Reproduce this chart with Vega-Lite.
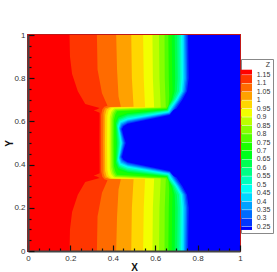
{"$schema":"https://vega.github.io/schema/vega-lite/v6.json","autosize":"none","width":212,"height":216,"padding":{"left":28,"top":35,"right":37,"bottom":21},"background":"white","config":{"view":{"stroke":"#c01818","strokeWidth":2},"font":"Liberation Sans"},
"datasets":{"levels":[{"z":"1.2","lab":"1.15"},{"z":"1.15","lab":"1.1"},{"z":"1.1","lab":"1.05"},{"z":"1.05","lab":"1"},{"z":"1","lab":"0.95"},{"z":"0.95","lab":"0.9"},{"z":"0.9","lab":"0.85"},{"z":"0.85","lab":"0.8"},{"z":"0.8","lab":"0.75"},{"z":"0.75","lab":"0.7"},{"z":"0.7","lab":"0.65"},{"z":"0.65","lab":"0.6"},{"z":"0.6","lab":"0.55"},{"z":"0.55","lab":"0.5"},{"z":"0.5","lab":"0.45"},{"z":"0.45","lab":"0.4"},{"z":"0.4","lab":"0.35"},{"z":"0.35","lab":"0.3"},{"z":"0.3","lab":"0.25"},{"z":"0.25","lab":"0.25"}],
"bands":[
{"z":"0.25","x":1,"y":1},{"z":"0.25","x":1,"y":0},
{"z":"0.3","x":0.755,"y":1},{"z":"0.3","x":0.758,"y":0.8},{"z":"0.3","x":0.75,"y":0.74},{"z":"0.3","x":0.728,"y":0.7},{"z":"0.3","x":0.7,"y":0.66},{"z":"0.3","x":0.673,"y":0.631},{"z":"0.3","x":0.657,"y":0.639},{"z":"0.3","x":0.47,"y":0.589},{"z":"0.3","x":0.45,"y":0.578},{"z":"0.3","x":0.443,"y":0.565},{"z":"0.3","x":0.45,"y":0.535},{"z":"0.3","x":0.461,"y":0.5},{"z":"0.3","x":0.45,"y":0.465},{"z":"0.3","x":0.443,"y":0.435},{"z":"0.3","x":0.45,"y":0.422},{"z":"0.3","x":0.47,"y":0.411},{"z":"0.3","x":0.657,"y":0.361},{"z":"0.3","x":0.673,"y":0.369},{"z":"0.3","x":0.7,"y":0.34},{"z":"0.3","x":0.728,"y":0.3},{"z":"0.3","x":0.75,"y":0.26},{"z":"0.3","x":0.758,"y":0.2},{"z":"0.3","x":0.755,"y":0},
{"z":"0.35","x":0.748,"y":1},{"z":"0.35","x":0.751,"y":0.8},{"z":"0.35","x":0.744,"y":0.74},{"z":"0.35","x":0.721,"y":0.7},{"z":"0.35","x":0.692,"y":0.66},{"z":"0.35","x":0.67,"y":0.634},{"z":"0.35","x":0.47,"y":0.594},{"z":"0.35","x":0.446,"y":0.58},{"z":"0.35","x":0.438,"y":0.565},{"z":"0.35","x":0.446,"y":0.535},{"z":"0.35","x":0.455,"y":0.5},{"z":"0.35","x":0.446,"y":0.465},{"z":"0.35","x":0.438,"y":0.435},{"z":"0.35","x":0.446,"y":0.42},{"z":"0.35","x":0.47,"y":0.406},{"z":"0.35","x":0.67,"y":0.366},{"z":"0.35","x":0.692,"y":0.34},{"z":"0.35","x":0.721,"y":0.3},{"z":"0.35","x":0.744,"y":0.26},{"z":"0.35","x":0.751,"y":0.2},{"z":"0.35","x":0.748,"y":0},
{"z":"0.4","x":0.742,"y":1},{"z":"0.4","x":0.745,"y":0.8},{"z":"0.4","x":0.738,"y":0.74},{"z":"0.4","x":0.715,"y":0.7},{"z":"0.4","x":0.686,"y":0.66},{"z":"0.4","x":0.668,"y":0.637},{"z":"0.4","x":0.47,"y":0.599},{"z":"0.4","x":0.442,"y":0.585},{"z":"0.4","x":0.434,"y":0.565},{"z":"0.4","x":0.442,"y":0.535},{"z":"0.4","x":0.45,"y":0.5},{"z":"0.4","x":0.442,"y":0.465},{"z":"0.4","x":0.434,"y":0.435},{"z":"0.4","x":0.442,"y":0.415},{"z":"0.4","x":0.47,"y":0.401},{"z":"0.4","x":0.668,"y":0.363},{"z":"0.4","x":0.686,"y":0.34},{"z":"0.4","x":0.715,"y":0.3},{"z":"0.4","x":0.738,"y":0.26},{"z":"0.4","x":0.745,"y":0.2},{"z":"0.4","x":0.742,"y":0},
{"z":"0.45","x":0.736,"y":1},{"z":"0.45","x":0.738,"y":0.8},{"z":"0.45","x":0.732,"y":0.74},{"z":"0.45","x":0.709,"y":0.7},{"z":"0.45","x":0.684,"y":0.665},{"z":"0.45","x":0.666,"y":0.64},{"z":"0.45","x":0.47,"y":0.604},{"z":"0.45","x":0.439,"y":0.59},{"z":"0.45","x":0.431,"y":0.57},{"z":"0.45","x":0.438,"y":0.535},{"z":"0.45","x":0.445,"y":0.5},{"z":"0.45","x":0.438,"y":0.465},{"z":"0.45","x":0.431,"y":0.43},{"z":"0.45","x":0.439,"y":0.41},{"z":"0.45","x":0.47,"y":0.396},{"z":"0.45","x":0.666,"y":0.36},{"z":"0.45","x":0.684,"y":0.335},{"z":"0.45","x":0.709,"y":0.3},{"z":"0.45","x":0.732,"y":0.26},{"z":"0.45","x":0.738,"y":0.2},{"z":"0.45","x":0.736,"y":0},
{"z":"0.5","x":0.729,"y":1},{"z":"0.5","x":0.731,"y":0.8},{"z":"0.5","x":0.726,"y":0.74},{"z":"0.5","x":0.703,"y":0.7},{"z":"0.5","x":0.678,"y":0.665},{"z":"0.5","x":0.664,"y":0.643},{"z":"0.5","x":0.47,"y":0.609},{"z":"0.5","x":0.436,"y":0.595},{"z":"0.5","x":0.428,"y":0.57},{"z":"0.5","x":0.435,"y":0.535},{"z":"0.5","x":0.441,"y":0.5},{"z":"0.5","x":0.435,"y":0.465},{"z":"0.5","x":0.428,"y":0.43},{"z":"0.5","x":0.436,"y":0.405},{"z":"0.5","x":0.47,"y":0.391},{"z":"0.5","x":0.664,"y":0.357},{"z":"0.5","x":0.678,"y":0.335},{"z":"0.5","x":0.703,"y":0.3},{"z":"0.5","x":0.726,"y":0.26},{"z":"0.5","x":0.731,"y":0.2},{"z":"0.5","x":0.729,"y":0},
{"z":"0.55","x":0.722,"y":1},{"z":"0.55","x":0.724,"y":0.8},{"z":"0.55","x":0.719,"y":0.74},{"z":"0.55","x":0.697,"y":0.7},{"z":"0.55","x":0.672,"y":0.665},{"z":"0.55","x":0.662,"y":0.646},{"z":"0.55","x":0.47,"y":0.615},{"z":"0.55","x":0.433,"y":0.6},{"z":"0.55","x":0.424,"y":0.575},{"z":"0.55","x":0.431,"y":0.535},{"z":"0.55","x":0.436,"y":0.5},{"z":"0.55","x":0.431,"y":0.465},{"z":"0.55","x":0.424,"y":0.425},{"z":"0.55","x":0.433,"y":0.4},{"z":"0.55","x":0.47,"y":0.385},{"z":"0.55","x":0.662,"y":0.354},{"z":"0.55","x":0.672,"y":0.335},{"z":"0.55","x":0.697,"y":0.3},{"z":"0.55","x":0.719,"y":0.26},{"z":"0.55","x":0.724,"y":0.2},{"z":"0.55","x":0.722,"y":0},
{"z":"0.6","x":0.714,"y":1},{"z":"0.6","x":0.716,"y":0.8},{"z":"0.6","x":0.712,"y":0.74},{"z":"0.6","x":0.691,"y":0.7},{"z":"0.6","x":0.668,"y":0.67},{"z":"0.6","x":0.66,"y":0.649},{"z":"0.6","x":0.47,"y":0.621},{"z":"0.6","x":0.431,"y":0.605},{"z":"0.6","x":0.421,"y":0.58},{"z":"0.6","x":0.427,"y":0.535},{"z":"0.6","x":0.431,"y":0.5},{"z":"0.6","x":0.427,"y":0.465},{"z":"0.6","x":0.421,"y":0.42},{"z":"0.6","x":0.431,"y":0.395},{"z":"0.6","x":0.47,"y":0.379},{"z":"0.6","x":0.66,"y":0.351},{"z":"0.6","x":0.668,"y":0.33},{"z":"0.6","x":0.691,"y":0.3},{"z":"0.6","x":0.712,"y":0.26},{"z":"0.6","x":0.716,"y":0.2},{"z":"0.6","x":0.714,"y":0},
{"z":"0.65","x":0.704,"y":1},{"z":"0.65","x":0.706,"y":0.8},{"z":"0.65","x":0.702,"y":0.74},{"z":"0.65","x":0.685,"y":0.7},{"z":"0.65","x":0.664,"y":0.67},{"z":"0.65","x":0.658,"y":0.652},{"z":"0.65","x":0.47,"y":0.627},{"z":"0.65","x":0.429,"y":0.61},{"z":"0.65","x":0.419,"y":0.585},{"z":"0.65","x":0.423,"y":0.535},{"z":"0.65","x":0.426,"y":0.5},{"z":"0.65","x":0.423,"y":0.465},{"z":"0.65","x":0.419,"y":0.415},{"z":"0.65","x":0.429,"y":0.39},{"z":"0.65","x":0.47,"y":0.373},{"z":"0.65","x":0.658,"y":0.348},{"z":"0.65","x":0.664,"y":0.33},{"z":"0.65","x":0.685,"y":0.3},{"z":"0.65","x":0.702,"y":0.26},{"z":"0.65","x":0.706,"y":0.2},{"z":"0.65","x":0.704,"y":0},
{"z":"0.7","x":0.692,"y":1},{"z":"0.7","x":0.694,"y":0.8},{"z":"0.7","x":0.692,"y":0.74},{"z":"0.7","x":0.68,"y":0.7},{"z":"0.7","x":0.662,"y":0.67},{"z":"0.7","x":0.656,"y":0.654},{"z":"0.7","x":0.47,"y":0.633},{"z":"0.7","x":0.427,"y":0.617},{"z":"0.7","x":0.415,"y":0.59},{"z":"0.7","x":0.418,"y":0.535},{"z":"0.7","x":0.42,"y":0.5},{"z":"0.7","x":0.418,"y":0.465},{"z":"0.7","x":0.415,"y":0.41},{"z":"0.7","x":0.427,"y":0.383},{"z":"0.7","x":0.47,"y":0.367},{"z":"0.7","x":0.656,"y":0.346},{"z":"0.7","x":0.662,"y":0.33},{"z":"0.7","x":0.68,"y":0.3},{"z":"0.7","x":0.692,"y":0.26},{"z":"0.7","x":0.694,"y":0.2},{"z":"0.7","x":0.692,"y":0},
{"z":"0.75","x":0.678,"y":1},{"z":"0.75","x":0.68,"y":0.8},{"z":"0.75","x":0.682,"y":0.74},{"z":"0.75","x":0.675,"y":0.7},{"z":"0.75","x":0.66,"y":0.67},{"z":"0.75","x":0.654,"y":0.657},{"z":"0.75","x":0.47,"y":0.639},{"z":"0.75","x":0.425,"y":0.625},{"z":"0.75","x":0.412,"y":0.595},{"z":"0.75","x":0.413,"y":0.535},{"z":"0.75","x":0.414,"y":0.5},{"z":"0.75","x":0.413,"y":0.465},{"z":"0.75","x":0.412,"y":0.405},{"z":"0.75","x":0.425,"y":0.375},{"z":"0.75","x":0.47,"y":0.361},{"z":"0.75","x":0.654,"y":0.343},{"z":"0.75","x":0.66,"y":0.33},{"z":"0.75","x":0.675,"y":0.3},{"z":"0.75","x":0.682,"y":0.26},{"z":"0.75","x":0.68,"y":0.2},{"z":"0.75","x":0.678,"y":0},
{"z":"0.8","x":0.662,"y":1},{"z":"0.8","x":0.664,"y":0.8},{"z":"0.8","x":0.666,"y":0.72},{"z":"0.8","x":0.663,"y":0.675},{"z":"0.8","x":0.655,"y":0.66},{"z":"0.8","x":0.42,"y":0.647},{"z":"0.8","x":0.411,"y":0.63},{"z":"0.8","x":0.405,"y":0.605},{"z":"0.8","x":0.404,"y":0.5},{"z":"0.8","x":0.405,"y":0.395},{"z":"0.8","x":0.411,"y":0.37},{"z":"0.8","x":0.42,"y":0.353},{"z":"0.8","x":0.655,"y":0.34},{"z":"0.8","x":0.663,"y":0.325},{"z":"0.8","x":0.666,"y":0.28},{"z":"0.8","x":0.664,"y":0.2},{"z":"0.8","x":0.662,"y":0},
{"z":"0.85","x":0.644,"y":1},{"z":"0.85","x":0.645,"y":0.8},{"z":"0.85","x":0.65,"y":0.664},{"z":"0.85","x":0.415,"y":0.652},{"z":"0.85","x":0.405,"y":0.635},{"z":"0.85","x":0.399,"y":0.61},{"z":"0.85","x":0.398,"y":0.5},{"z":"0.85","x":0.399,"y":0.39},{"z":"0.85","x":0.405,"y":0.365},{"z":"0.85","x":0.415,"y":0.348},{"z":"0.85","x":0.65,"y":0.336},{"z":"0.85","x":0.645,"y":0.2},{"z":"0.85","x":0.644,"y":0},
{"z":"0.9","x":0.618,"y":1},{"z":"0.9","x":0.62,"y":0.8},{"z":"0.9","x":0.626,"y":0.664},{"z":"0.9","x":0.411,"y":0.656},{"z":"0.9","x":0.399,"y":0.64},{"z":"0.9","x":0.393,"y":0.615},{"z":"0.9","x":0.392,"y":0.5},{"z":"0.9","x":0.393,"y":0.385},{"z":"0.9","x":0.399,"y":0.36},{"z":"0.9","x":0.411,"y":0.344},{"z":"0.9","x":0.626,"y":0.336},{"z":"0.9","x":0.62,"y":0.2},{"z":"0.9","x":0.618,"y":0},
{"z":"0.95","x":0.587,"y":1},{"z":"0.95","x":0.589,"y":0.8},{"z":"0.95","x":0.595,"y":0.665},{"z":"0.95","x":0.406,"y":0.66},{"z":"0.95","x":0.393,"y":0.645},{"z":"0.95","x":0.386,"y":0.62},{"z":"0.95","x":0.385,"y":0.5},{"z":"0.95","x":0.386,"y":0.38},{"z":"0.95","x":0.393,"y":0.355},{"z":"0.95","x":0.406,"y":0.34},{"z":"0.95","x":0.595,"y":0.335},{"z":"0.95","x":0.589,"y":0.2},{"z":"0.95","x":0.587,"y":0},
{"z":"1","x":0.543,"y":1},{"z":"1","x":0.546,"y":0.8},{"z":"1","x":0.552,"y":0.666},{"z":"1","x":0.395,"y":0.664},{"z":"1","x":0.38,"y":0.65},{"z":"1","x":0.374,"y":0.625},{"z":"1","x":0.373,"y":0.5},{"z":"1","x":0.374,"y":0.375},{"z":"1","x":0.38,"y":0.35},{"z":"1","x":0.395,"y":0.336},{"z":"1","x":0.552,"y":0.334},{"z":"1","x":0.546,"y":0.2},{"z":"1","x":0.543,"y":0},
{"z":"1.05","x":0.487,"y":1},{"z":"1.05","x":0.49,"y":0.8},{"z":"1.05","x":0.498,"y":0.668},{"z":"1.05","x":0.388,"y":0.666},{"z":"1.05","x":0.371,"y":0.655},{"z":"1.05","x":0.364,"y":0.63},{"z":"1.05","x":0.363,"y":0.5},{"z":"1.05","x":0.364,"y":0.37},{"z":"1.05","x":0.371,"y":0.345},{"z":"1.05","x":0.388,"y":0.334},{"z":"1.05","x":0.498,"y":0.332},{"z":"1.05","x":0.49,"y":0.2},{"z":"1.05","x":0.487,"y":0},
{"z":"1.1","x":0.416,"y":1},{"z":"1.1","x":0.42,"y":0.84},{"z":"1.1","x":0.427,"y":0.715},{"z":"1.1","x":0.438,"y":0.668},{"z":"1.1","x":0.383,"y":0.667},{"z":"1.1","x":0.363,"y":0.66},{"z":"1.1","x":0.356,"y":0.64},{"z":"1.1","x":0.355,"y":0.5},{"z":"1.1","x":0.356,"y":0.36},{"z":"1.1","x":0.363,"y":0.34},{"z":"1.1","x":0.383,"y":0.333},{"z":"1.1","x":0.438,"y":0.332},{"z":"1.1","x":0.427,"y":0.285},{"z":"1.1","x":0.42,"y":0.16},{"z":"1.1","x":0.416,"y":0},
{"z":"1.15","x":0.325,"y":1},{"z":"1.15","x":0.328,"y":0.84},{"z":"1.15","x":0.349,"y":0.73},{"z":"1.15","x":0.375,"y":0.672},{"z":"1.15","x":0.36,"y":0.668},{"z":"1.15","x":0.35,"y":0.655},{"z":"1.15","x":0.345,"y":0.63},{"z":"1.15","x":0.345,"y":0.5},{"z":"1.15","x":0.345,"y":0.37},{"z":"1.15","x":0.35,"y":0.345},{"z":"1.15","x":0.36,"y":0.332},{"z":"1.15","x":0.375,"y":0.328},{"z":"1.15","x":0.349,"y":0.27},{"z":"1.15","x":0.328,"y":0.16},{"z":"1.15","x":0.325,"y":0},
{"z":"1.2","x":0.196,"y":1},{"z":"1.2","x":0.198,"y":0.9},{"z":"1.2","x":0.208,"y":0.82},{"z":"1.2","x":0.235,"y":0.74},{"z":"1.2","x":0.27,"y":0.68},{"z":"1.2","x":0.31,"y":0.652},{"z":"1.2","x":0.325,"y":0.655},{"z":"1.2","x":0.338,"y":0.662},{"z":"1.2","x":0.338,"y":0.64},{"z":"1.2","x":0.337,"y":0.5},{"z":"1.2","x":0.338,"y":0.36},{"z":"1.2","x":0.338,"y":0.338},{"z":"1.2","x":0.325,"y":0.345},{"z":"1.2","x":0.31,"y":0.348},{"z":"1.2","x":0.27,"y":0.32},{"z":"1.2","x":0.235,"y":0.26},{"z":"1.2","x":0.208,"y":0.18},{"z":"1.2","x":0.198,"y":0.1},{"z":"1.2","x":0.196,"y":0}
]},
"encoding":{
"x":{"field":"x","type":"quantitative","stack":null,"scale":{"domain":[0,1],"nice":false},"title":"X","axis":{"zindex":1,"values":[0,0.05,0.1,0.15,0.2,0.25,0.3,0.35,0.4,0.45,0.5,0.55,0.6,0.65,0.7,0.75,0.8,0.85,0.9,0.95,1],"labelExpr":"round(datum.value*100)%20==0 ? format(datum.value,'~g') : ''","labelOverlap":false,"labelBound":false,"labelFlush":false,"grid":false,"domainColor":"#444444","domainWidth":2,"tickColor":"#111111","tickWidth":1.2,"tickSize":{"condition":{"test":"round(datum.value*100)%20==0","value":-6},"value":-3},"labelFontSize":8,"labelColor":"#333333","labelPadding":9,"titleFontSize":10,"titleFontWeight":"bold","titleColor":"#111111","titlePadding":-3}},
"y":{"field":"y","type":"quantitative","scale":{"domain":[0,1],"nice":false},"title":"Y","axis":{"zindex":1,"values":[0,0.05,0.1,0.15,0.2,0.25,0.3,0.35,0.4,0.45,0.5,0.55,0.6,0.65,0.7,0.75,0.8,0.85,0.9,0.95,1],"labelExpr":"round(datum.value*100)%20==0 ? format(datum.value,'~g') : ''","labelOverlap":false,"labelBound":false,"labelFlush":false,"grid":false,"domainColor":"#444444","domainWidth":2,"tickColor":"#111111","tickWidth":1.2,"tickSize":{"condition":{"test":"round(datum.value*100)%20==0","value":-6},"value":-3},"labelFontSize":8,"labelColor":"#333333","labelAlign":"right","labelPadding":9,"titleFontSize":10,"titleFontWeight":"bold","titleColor":"#111111","titlePadding":-1}}
},
"layer":[
{"data":{"name":"levels"},"mark":{"type":"point","filled":true,"opacity":1},"encoding":{"x":{"datum":0.5,"type":"quantitative"},"y":{"datum":0.5,"type":"quantitative"},
"color":{"field":"z","type":"nominal","title":null,"scale":{"domain":["1.2","1.15","1.1","1.05","1","0.95","0.9","0.85","0.8","0.75","0.7","0.65","0.6","0.55","0.5","0.45","0.4","0.35","0.3","0.25"],"range":["#ff0000","#ff3600","#ff6b00","#ffa100","#ffd700","#f2ff00","#bcff00","#86ff00","#51ff00","#1bff00","#00ff1b","#00ff51","#00ff86","#00ffbc","#00fff2","#00d7ff","#00a1ff","#006bff","#0036ff","#0000ff"]},"legend":{"orient":"none","legendX":213,"legendY":31.6,"padding":0,"zindex":2,"symbolSize":64,"symbolStrokeWidth":0,"symbolOpacity":1,"labelFontSize":7,"rowPadding":0.44,"labelExpr":"''"}},
"shape":{"field":"z","type":"nominal","title":null,"scale":{"domain":["1.2","1.15","1.1","1.05","1","0.95","0.9","0.85","0.8","0.75","0.7","0.65","0.6","0.55","0.5","0.45","0.4","0.35","0.3","0.25"],"range":["M-1,-0.225L1.75,-0.225L1.75,1L-1,1Z","M-1,-1L1.75,-1L1.75,1L-1,1Z","M-1,-1L1.75,-1L1.75,1L-1,1Z","M-1,-1L1.75,-1L1.75,1L-1,1Z","M-1,-1L1.75,-1L1.75,1L-1,1Z","M-1,-1L1.75,-1L1.75,1L-1,1Z","M-1,-1L1.75,-1L1.75,1L-1,1Z","M-1,-1L1.75,-1L1.75,1L-1,1Z","M-1,-1L1.75,-1L1.75,1L-1,1Z","M-1,-1L1.75,-1L1.75,1L-1,1Z","M-1,-1L1.75,-1L1.75,1L-1,1Z","M-1,-1L1.75,-1L1.75,1L-1,1Z","M-1,-1L1.75,-1L1.75,1L-1,1Z","M-1,-1L1.75,-1L1.75,1L-1,1Z","M-1,-1L1.75,-1L1.75,1L-1,1Z","M-1,-1L1.75,-1L1.75,1L-1,1Z","M-1,-1L1.75,-1L1.75,1L-1,1Z","M-1,-1L1.75,-1L1.75,1L-1,1Z","M-1,-1L1.75,-1L1.75,1L-1,1Z","M-1,-1L1.75,-1L1.75,-0.25L-1,-0.25Z"]},"legend":{"orient":"none","legendX":213,"legendY":31.6,"padding":0,"zindex":2,"symbolSize":64,"symbolStrokeWidth":0,"symbolOpacity":1,"labelFontSize":7,"rowPadding":0.44,"labelExpr":"''"}},
"stroke":{"field":"lab","type":"nominal","title":"Z","scale":{"domain":["1.15","1.1","1.05","1","0.95","0.9","0.85","0.8","0.75","0.7","0.65","0.6","0.55","0.5","0.45","0.4","0.35","0.3","0.25"],"range":["#000000"]},"legend":{"orient":"none","legendX":213,"legendY":24,"padding":2,"zindex":1,"fillColor":"white","strokeColor":"#888888","symbolSize":64,"symbolType":"square","symbolStrokeWidth":0,"symbolOpacity":0,"labelFontSize":7,"labelColor":"#333333","labelOffset":5.7,"rowPadding":0.44,"titleFontSize":7,"titleFontWeight":"normal","titleColor":"#333333","titlePadding":3,"titleAnchor":"end"}}}},
{"data":{"name":"bands"},"mark":{"type":"area","orient":"horizontal","interpolate":"linear"},"encoding":{"order":null,"color":{"field":"z","type":"nominal","legend":null}}}
]}
